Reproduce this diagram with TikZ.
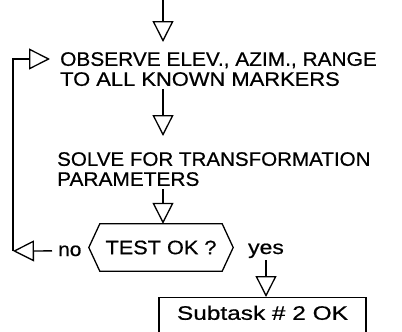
\documentclass[tikz,border=0pt]{standalone}
\usepackage{fontspec}
\setmainfont{Liberation Sans}[FakeStretch=1.07, FakeBold=0.6]
\usetikzlibrary{arrows.meta}
\newcommand{\widetext}[2]{\scalebox{#1}[1]{#2}}

\begin{document}
\begin{tikzpicture}[x=1pt, y=-1pt,
  txt/.style={font=\fontsize{19.5}{20}\selectfont, inner sep=0pt, align=left},
  outline/.style={line width=1.3pt, line join=miter},
  flow/.style={line width=1.3pt,
    -{Triangle[open, length=21pt, width=21pt]}}]

  % page frame
  \useasboundingbox (0,0) rectangle (402,332);
  \clip (0,0) rectangle (402,332);
  \fill[white] (0,0) rectangle (402,332);

  % process steps
  \coordinate (in) at (163,0);
  \node[txt, anchor=north west] (obs) at (60,52)
    {OBSERVE ELEV., AZIM., RANGE\\\widetext{1.05}{TO ALL KNOWN MARKERS}};
  \node[txt, anchor=north west] (solve) at (57,152)
    {\widetext{0.985}{SOLVE FOR TRANSFORMATION}\\PARAMETERS};

  % decision
  \node[txt, align=center, minimum width=122pt, minimum height=47pt] (test)
    at (161,247.5) {\widetext{1.04}{TEST OK ?}};
  \draw[outline] (test.north west) -- (test.north east)
    -- ([xshift=11pt]test.east) -- (test.south east)
    -- (test.south west) -- ([xshift=-11pt]test.west) -- cycle;
  \node[txt, anchor=base west] (no) at (58,256) {no};
  \node[txt, anchor=base] (yes) at (266,254) {\widetext{1.1}{yes}};

  % result
  \node[txt, draw, outline, anchor=north, minimum width=207pt,
        inner ysep=8pt, text depth=26pt] (done) at (262.5,297)
    {\widetext{1.17}{Subtask \# 2 OK}};

  % loop back
  \coordinate (back) at (13,251);
  \coordinate (entry) at ([yshift=-7pt]obs.north west);

  % connectors
  \draw[flow, shorten >=10pt] (in) -- (in |- obs.north);
  \draw[flow, shorten <=3pt, shorten >=16pt] (in |- obs.south) -- (in |- solve.north);
  \draw[flow, shorten <=3pt] (in |- solve.south) -- (in |- test.north);
  \draw[flow, shorten <=2pt] (yes.south) -- (yes.south |- done.north);
  \draw[flow, shorten <=6pt] (no.west) -- (back);
  \draw[flow, shorten >=10pt] (back) |- (entry);
\end{tikzpicture}
\end{document}
